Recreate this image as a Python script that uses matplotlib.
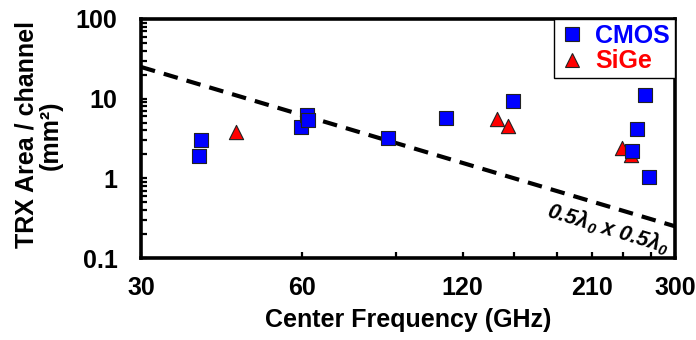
import matplotlib
matplotlib.use("Agg")
import matplotlib.pyplot as plt
from matplotlib.lines import Line2D
from matplotlib.ticker import FixedLocator, NullFormatter, LogLocator

plt.rcParams['font.family'] = ['Liberation Sans', 'DejaVu Sans']
plt.rcParams['font.weight'] = 'bold'
plt.rcParams['mathtext.fontset'] = 'custom'
plt.rcParams['mathtext.rm'] = 'Liberation Sans:italic:bold'
plt.rcParams['mathtext.it'] = 'Liberation Sans:italic:bold'

# CMOS transceivers: center frequency (GHz) and area per channel (mm^2)
cmos_freq = [38.9, 38.5, 59.8, 61.4, 61.6, 87.2, 111.6, 149.3, 263.6, 254.3, 249.5, 268.3]
cmos_area = [3.02, 1.93, 4.40, 6.23, 5.39, 3.22, 5.74, 9.28, 11.2, 4.18, 2.21, 1.03]

# SiGe transceivers
sige_freq = [45.2, 139.2, 146.2, 238.7, 248.1]
sige_area = [3.84, 5.59, 4.49, 2.39, 1.98]

# half-wavelength x half-wavelength reference (mm^2)
ref_freq = [30, 300]
ref_area = [25, 0.25]

xticks = [30, 60, 120, 210, 300]
xminor = [90, 150, 180, 240, 270]
yticks = [0.1, 1, 10, 100]
ytick_labels = ['0.1', '1', '10', '100']

fig = plt.figure(figsize=(6.96, 3.40), dpi=100)
ax = fig.add_axes([141 / 696, 82 / 340, 534 / 696, 239 / 340])

ax.plot(ref_freq, ref_area, color='black', lw=3, linestyle=(0, (3.5, 2.2)), zorder=2)

ax.scatter(sige_freq, sige_area, marker='^', s=105, color='#ff0000',
           edgecolors='#222222', linewidths=0.8, zorder=3)
ax.scatter(cmos_freq, cmos_area, marker='s', s=105, color='#0000ff',
           edgecolors='#222222', linewidths=0.8, zorder=4)

ax.set_xscale('log')
ax.set_yscale('log')
ax.set_xlim(30, 300)
ax.set_ylim(0.1, 100)

ax.xaxis.set_major_locator(FixedLocator(xticks))
ax.xaxis.set_minor_locator(FixedLocator(xminor))
ax.set_xticklabels([str(t) for t in xticks])
ax.xaxis.set_minor_formatter(NullFormatter())

ax.yaxis.set_major_locator(FixedLocator(yticks))
ax.set_yticklabels(ytick_labels)
ax.yaxis.set_minor_locator(LogLocator(base=10, subs=range(2, 10)))
ax.yaxis.set_minor_formatter(NullFormatter())

ax.tick_params(axis='x', which='both', direction='in', length=4, width=1.6,
               labelsize=18, pad=13, top=False)
ax.tick_params(axis='y', which='both', direction='in', length=4, width=1.6,
               labelsize=18, pad=17, right=False)

for sp in ax.spines.values():
    sp.set_linewidth(2.6)

ax.text(225, 0.232, '0.5λ$_0$ x 0.5λ$_0$', fontsize=15.5, fontstyle='italic',
        fontweight='bold', rotation=-17, rotation_mode='anchor',
        ha='center', va='center', zorder=5)

handles = [
    Line2D([], [], marker='s', linestyle='none', markersize=10,
           markerfacecolor='#0000ff', markeredgecolor='#222222', markeredgewidth=0.8),
    Line2D([], [], marker='^', linestyle='none', markersize=10,
           markerfacecolor='#ff0000', markeredgecolor='#222222', markeredgewidth=0.8),
]
leg = ax.legend(handles, ['CMOS', 'SiGe'], loc='upper right', bbox_to_anchor=(1, 1),
                borderaxespad=0, fancybox=False, edgecolor='black', framealpha=1,
                fontsize=18, handlelength=1.0, handletextpad=0.45, labelspacing=0.05,
                borderpad=0.2)
leg.get_frame().set_linewidth(1.0)
leg.set_zorder(6)
for txt, col in zip(leg.get_texts(), ['#0000ff', '#ff0000']):
    txt.set_color(col)

fig.text(408 / 696, 20 / 340, 'Center Frequency (GHz)', fontsize=18,
         fontweight='bold', ha='center', va='center')
fig.text(39 / 696, 0.603, 'TRX Area / channel\n(mm²)', fontsize=18,
         fontweight='bold', ha='center', va='center', rotation=90,
         linespacing=1.0, multialignment='center')

fig.savefig('out.png', dpi=100)
